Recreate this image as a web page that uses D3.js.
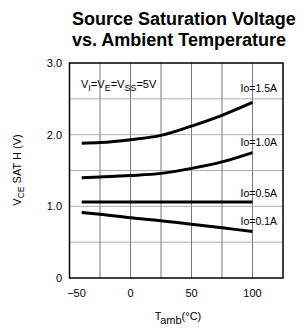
<!DOCTYPE html>
<html>
<head>
<meta charset="utf-8">
<script src="https://cdn.jsdelivr.net/npm/d3@7"></script>
<style>
  body { margin: 0; background: #fff; }
  svg { display: block; }
</style>
</head>
<body>
<div id="chart"></div>
<script>
// chart data
const temps = [-40, -25, 0, 25, 50, 75, 100]
const io15 = [1.88, 1.89, 1.93, 1.99, 2.12, 2.27, 2.45]
const io10 = [1.40, 1.41, 1.43, 1.46, 1.53, 1.62, 1.75]
const io05 = [1.06, 1.06, 1.06, 1.06, 1.06, 1.06, 1.06]
const io01 = [0.915, 0.89, 0.84, 0.80, 0.75, 0.70, 0.65]
const seriesLabels = ["Io=1.5A", "Io=1.0A", "Io=0.5A", "Io=0.1A"]
const xTicks = [-50, 0, 50, 100]
const yTickLabels = [[0, "0"], [1, "1.0"], [2, "2.0"], [3, "3.0"]]

const width = 306, height = 330
const margin = { top: 63, right: 23, bottom: 52, left: 69.5 }

const svg = d3.select("#chart")
  .append("svg")
  .attr("width", width)
  .attr("height", height)

const x = d3.scaleLinear().domain([-50, 125]).range([margin.left, width - margin.right])
const y = d3.scaleLinear().domain([0, 3]).range([height - margin.bottom, margin.top])

const font = "'Liberation Sans', Arial, sans-serif"

// title
svg.append("g")
  .attr("font-family", font)
  .attr("font-weight", "bold")
  .attr("font-size", 18)
  .selectAll("text")
  .data(["Source Saturation Voltage", "vs. Ambient Temperature"])
  .enter()
    .append("text")
    .attr("x", 72)
    .attr("y", (d, i) => 25 + i * 21)
    .text(d => d)

// grid
svg.append("g")
  .selectAll("line.v")
  .data(d3.range(-25, 125, 25))
  .enter()
    .append("line")
    .attr("class", "v")
    .attr("x1", d => x(d)).attr("x2", d => x(d))
    .attr("y1", y(3)).attr("y2", y(0))
    .attr("stroke", "#555")
    .attr("stroke-width", 0.8)
svg.append("g")
  .selectAll("line.h")
  .data(d3.range(0.5, 3, 0.5))
  .enter()
    .append("line")
    .attr("class", "h")
    .attr("x1", x(-50)).attr("x2", x(125))
    .attr("y1", d => y(d)).attr("y2", d => y(d))
    .attr("stroke", "#999")
    .attr("stroke-width", 0.8)

// frame
svg.append("rect")
  .attr("x", x(-50)).attr("y", y(3))
  .attr("width", x(125) - x(-50))
  .attr("height", y(0) - y(3))
  .attr("fill", "none")
  .attr("stroke", "#000")
  .attr("stroke-width", 1.5)

// tick labels
svg.append("g")
  .attr("font-family", font)
  .attr("font-size", 11)
  .attr("text-anchor", "middle")
  .selectAll("text")
  .data(xTicks)
  .enter()
    .append("text")
    .attr("x", d => x(d) + (d === -50 ? 7 : 0))
    .attr("y", 297)
    .text(d => d < 0 ? "\u2212" + Math.abs(d) : d)

svg.append("g")
  .attr("font-family", font)
  .attr("font-size", 11)
  .attr("text-anchor", "end")
  .selectAll("text")
  .data(yTickLabels)
  .enter()
    .append("text")
    .attr("x", 62)
    .attr("y", d => y(d[0]) + 4)
    .text(d => d[1])

// curves
const line = d3.line()
  .x((d, i) => x(temps[i]))
  .y(d => y(d))
  .curve(d3.curveMonotoneX)

const series = [io15, io10, io05, io01]
svg.append("g")
  .selectAll("path.curve")
  .data(series)
  .enter()
    .append("path")
    .attr("class", "curve")
    .attr("d", line)
    .attr("fill", "none")
    .attr("stroke", "#000")
    .attr("stroke-width", 3)

// curve labels
const labelY = [2.6, 1.84, 1.13, 0.74]
svg.append("g")
  .attr("font-family", font)
  .attr("font-size", 10.5)
  .attr("text-anchor", "end")
  .selectAll("text")
  .data(seriesLabels)
  .enter()
    .append("text")
    .attr("x", 277)
    .attr("y", (d, i) => y(labelY[i]))
    .text(d => d)

// condition label, with subscripts
const cond = svg.append("text")
  .attr("font-family", font)
  .attr("font-size", 11)
  .attr("x", 81)
  .attr("y", 88)
const parts = [["V", 0], ["I", 1], ["=V", 0], ["E", 1], ["=V", 0], ["SS", 1], ["=5V", 0]]
let shift = 0
parts.forEach(([t, sub]) => {
  const off = sub ? 3 : 0
  cond.append("tspan")
    .attr("font-size", sub ? 9 : 11)
    .attr("dy", off - shift)
    .text(t)
  shift = off
})

// axis titles
const yl = svg.append("text")
  .attr("font-family", font)
  .attr("font-size", 11)
  .attr("text-anchor", "middle")
  .attr("transform", "translate(21,170) rotate(-90)")
yl.append("tspan").text("V")
yl.append("tspan").attr("font-size", 8.5).attr("dy", 3).text("CE")
yl.append("tspan").attr("dy", -3).text(" SAT H (V)")

const xl = svg.append("text")
  .attr("font-family", font)
  .attr("font-size", 11)
  .attr("text-anchor", "middle")
  .attr("x", 178)
  .attr("y", 320)
xl.append("tspan").text("T")
xl.append("tspan").attr("dy", 4).text("amb")
xl.append("tspan").attr("dy", -4).text("(\u00b0C)")
</script>
</body>
</html>
